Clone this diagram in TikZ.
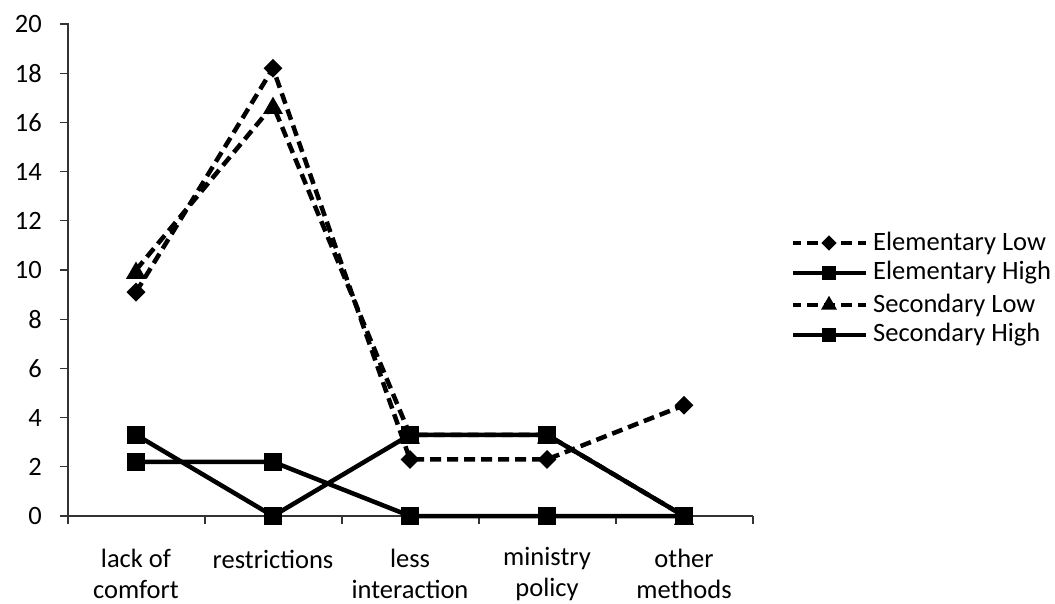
\documentclass[tikz,border=0pt]{standalone}
\usepackage{fontspec}
\setmainfont{Carlito}
\usetikzlibrary{shapes.geometric}
\begin{document}
\begin{tikzpicture}[x=1pt,y=-1pt,
  axisline/.style={line width=1.2pt,black!80},
  solidser/.style={line width=4.5pt,black,line join=round},
  dashser/.style={line width=4.5pt,black,dash pattern=on 11pt off 6pt,line join=round},
  sqm/.style={rectangle,fill=black,minimum size=18pt,inner sep=0pt},
  diam/.style={diamond,fill=black,minimum size=19pt,inner sep=0pt},
  trim/.style={regular polygon,regular polygon sides=3,fill=black,minimum size=23pt,inner sep=0pt,outer sep=0pt},
  lbl/.style={font=\fontsize{26.5}{31}\selectfont,align=center,inner sep=0pt},
  leglbl/.style={font=\fontsize{26.5}{31}\selectfont,anchor=west,inner sep=0pt}]
\useasboundingbox (0,0) rectangle (1055,604);
% axes
\coordinate (o) at (68,516);
\coordinate (ytop) at (68,23);
\coordinate (xend) at (753,516);
\draw[axisline] (ytop) -- (o) -- (xend);
\foreach \v in {0,2,...,20}{
  \coordinate (yt\v) at (68,{516-24.6*\v});
  \draw[axisline] (yt\v) -- ++(-8,0);
  \node[lbl,anchor=east] (yl\v) at ([xshift=-26pt]yt\v) {\v};
}
\foreach \i/\x in {0/68,1/205,2/342,3/479,4/616,5/753}{
  \coordinate (xt\i) at (\x,516);
  \draw[axisline] (xt\i) -- ++(0,8);
}
% category labels
\node[lbl] (c1) at (136,574) {lack of\\comfort};
\node[lbl] (c2) at (273,559) {restrictions};
\node[lbl] (c3) at (410,574) {less\\interaction};
\node[lbl] (c4) at (547,574) {ministry\\policy};
\node[lbl] (c5) at (684,574) {other\\methods};
% data coordinates
\foreach \s/\a/\b/\c/\d/\e in {elA/9.1/18.2/2.3/2.3/4.5, elB/2.2/2.2/0/0/0, seA/10/16.7/3.3/3.3/0, seB/3.3/0/3.3/3.3/0}{
  \coordinate (\s1) at (136,{516-24.6*\a});
  \coordinate (\s2) at (273,{516-24.6*\b});
  \coordinate (\s3) at (410,{516-24.6*\c});
  \coordinate (\s4) at (547,{516-24.6*\d});
  \coordinate (\s5) at (684,{516-24.6*\e});
}
% Elementary Low
\draw[dashser] (elA1) -- (elA2) -- (elA3) -- (elA4) -- (elA5);
\foreach \k in {1,...,5}{\node[diam] (elAm\k) at (elA\k) {};}
% Elementary High
\draw[solidser] (elB1) -- (elB2) -- (elB3) -- (elB4) -- (elB5);
\foreach \k in {1,...,5}{\node[sqm] (elBm\k) at (elB\k) {};}
% Secondary Low
\draw[dashser] (seA1) -- (seA2) -- (seA3) -- (seA4) -- (seA5);
\foreach \k in {1,...,5}{\node[trim,yshift=-3pt] (seAm\k) at (seA\k) {};}
% Secondary High
\draw[solidser] (seB1) -- (seB2) -- (seB3) -- (seB4) -- (seB5);
\foreach \k in {1,...,5}{\node[sqm] (seBm\k) at (seB\k) {};}
% legend
\foreach \j/\y/\sty/\mk/\t in {1/243/dashser/diam/Elementary Low, 2/273/solidser/sqm/Elementary High, 3/305/dashser/trim/Secondary Low, 4/335/solidser/sqm/Secondary High}{
  \coordinate (la\j) at (793,\y);
  \coordinate (lb\j) at (866,\y);
  \draw[\sty,dash phase=3pt] (la\j) -- (lb\j);
  \node[\mk,scale=0.8] (lm\j) at (829,\y) {};
  \node[leglbl] (lt\j) at (873,\y) {\t};
}
\end{tikzpicture}
\end{document}
